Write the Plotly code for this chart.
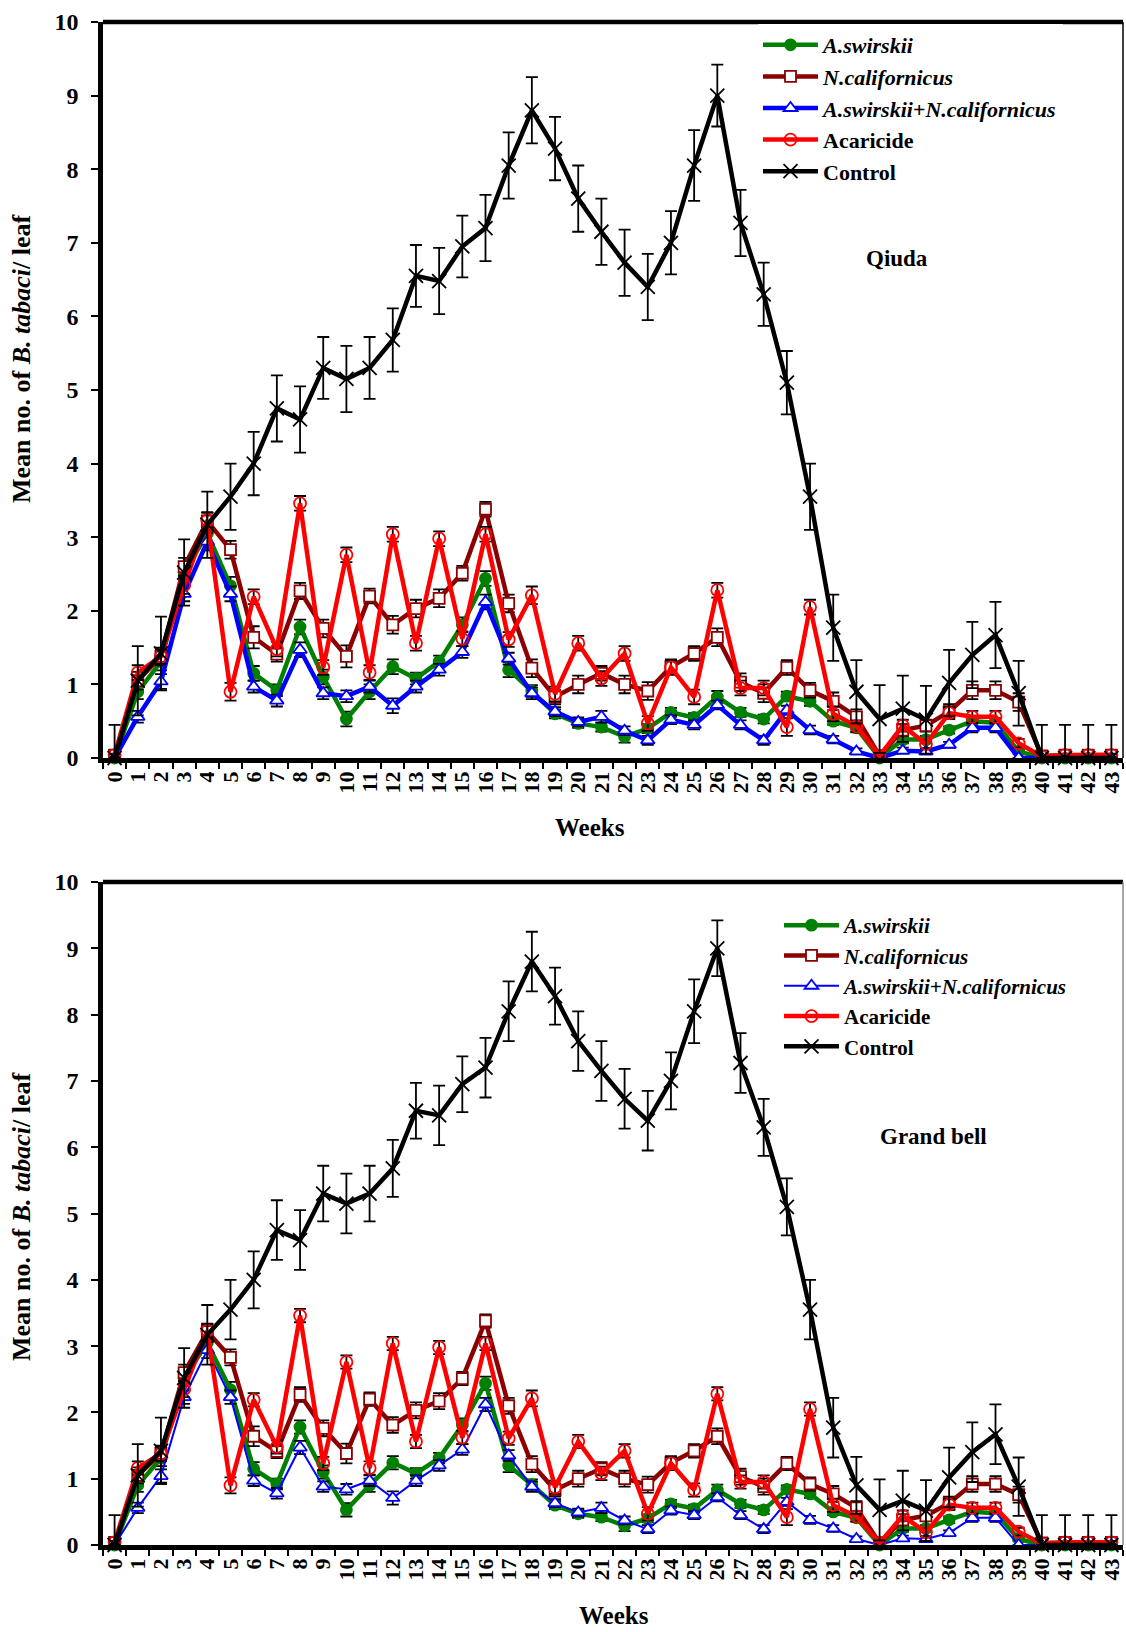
import plotly.graph_objects as go

# Weekly sampling points
weeks = [str(w) for w in range(44)]

# Mean no. of B. tabaci per leaf
a_swirskii = [0, 0.9, 1.31, 2.52, 3.05, 2.34, 1.15, 0.92, 1.78, 1.1, 0.53, 0.9, 1.24, 1.08,
              1.31, 1.81, 2.44, 1.2, 0.91, 0.6, 0.47, 0.42, 0.29, 0.4, 0.62, 0.55, 0.83, 0.62,
              0.53, 0.84, 0.77, 0.5, 0.41, 0, 0.25, 0.25, 0.38, 0.5, 0.48, 0.09, 0, 0, 0, 0]
n_californicus = [0.04, 1.05, 1.38, 2.6, 3.22, 2.83, 1.64, 1.41, 2.27, 1.76, 1.38, 2.2, 1.81, 2.03,
                  2.17, 2.51, 3.38, 2.1, 1.22, 0.83, 1.0, 1.15, 1.0, 0.91, 1.24, 1.42, 1.64, 1.03,
                  0.88, 1.23, 0.92, 0.77, 0.56, 0.03, 0.38, 0.44, 0.63, 0.92, 0.92, 0.76, 0.03,
                  0.04, 0.04, 0.04]
combined = [0, 0.56, 1.04, 2.23, 2.94, 2.23, 0.97, 0.78, 1.47, 0.88, 0.84, 0.97, 0.71, 0.97,
            1.2, 1.44, 2.12, 1.35, 0.88, 0.63, 0.49, 0.56, 0.37, 0.24, 0.52, 0.45, 0.72, 0.45,
            0.24, 0.65, 0.38, 0.25, 0.09, 0, 0.1, 0.09, 0.18, 0.41, 0.41, 0, 0, 0, 0, 0]
acaricide = [0.04, 1.16, 1.38, 2.35, 3.23, 0.9, 2.19, 1.48, 3.46, 1.23, 2.76, 1.16, 3.04, 1.56,
             2.98, 1.62, 3.04, 1.61, 2.21, 0.87, 1.56, 1.08, 1.42, 0.47, 1.23, 0.83, 2.28, 0.95,
             0.95, 0.42, 2.05, 0.6, 0.43, 0.03, 0.44, 0.19, 0.61, 0.56, 0.56, 0.2, 0.02, 0.04,
             0.04, 0.04]
control = [0, 1.05, 1.42, 2.52, 3.17, 3.55, 4.0, 4.75, 4.6, 5.3, 5.15, 5.3, 5.68, 6.55,
           6.48, 6.95, 7.2, 8.05, 8.8, 8.28, 7.6, 7.15, 6.73, 6.4, 7.0, 8.05, 9.0, 7.27,
           6.3, 5.1, 3.55, 1.77, 0.9, 0.53, 0.67, 0.52, 1.02, 1.4, 1.67, 0.88, 0, 0, 0, 0]

# Standard errors
a_swirskii_se = [0, 0.1, 0.12, 0.12, 0.12, 0.12, 0.1, 0.08, 0.1, 0.1, 0.1, 0.1, 0.1, 0.08,
                 0.08, 0.1, 0.1, 0.1, 0.08, 0.06, 0.06, 0.06, 0.08, 0.06, 0.06, 0.06, 0.08, 0.06,
                 0.06, 0.06, 0.06, 0.05, 0.05, 0, 0.05, 0.05, 0.05, 0.06, 0.06, 0.03, 0, 0, 0, 0]
n_californicus_se = [0.02, 0.12, 0.12, 0.12, 0.12, 0.12, 0.15, 0.1, 0.11, 0.12, 0.15, 0.1, 0.12, 0.12,
                     0.12, 0.1, 0.1, 0.12, 0.12, 0.1, 0.12, 0.1, 0.12, 0.12, 0.1, 0.1, 0.12, 0.12,
                     0.12, 0.1, 0.1, 0.12, 0.1, 0.02, 0.08, 0.08, 0.1, 0.12, 0.12, 0.12, 0.02,
                     0.02, 0.02, 0.02]
combined_se = [0, 0.08, 0.1, 0.1, 0.12, 0.1, 0.08, 0.08, 0.1, 0.08, 0.08, 0.08, 0.1, 0.08,
               0.08, 0.08, 0.1, 0.08, 0.08, 0.06, 0.06, 0.08, 0.06, 0.06, 0.06, 0.06, 0.06, 0.06,
               0.06, 0.06, 0.06, 0.05, 0.04, 0, 0.04, 0.04, 0.04, 0.06, 0.06, 0, 0, 0, 0, 0]
acaricide_se = [0.02, 0.1, 0.1, 0.12, 0.1, 0.12, 0.1, 0.1, 0.1, 0.1, 0.1, 0.1, 0.1, 0.1,
                0.1, 0.1, 0.1, 0.1, 0.12, 0.1, 0.1, 0.1, 0.1, 0.1, 0.1, 0.1, 0.1, 0.1,
                0.1, 0.12, 0.1, 0.1, 0.08, 0.02, 0.08, 0.06, 0.08, 0.08, 0.08, 0.06, 0.02,
                0.02, 0.02, 0.02]
control_se = [0.45, 0.47, 0.5, 0.45, 0.45, 0.45, 0.43, 0.45, 0.45, 0.42, 0.45, 0.42, 0.43, 0.42,
              0.45, 0.42, 0.45, 0.45, 0.45, 0.43, 0.45, 0.45, 0.45, 0.45, 0.43, 0.48, 0.42, 0.45,
              0.43, 0.43, 0.45, 0.45, 0.43, 0.46, 0.45, 0.46, 0.45, 0.45, 0.45, 0.44, 0.45,
              0.45, 0.45, 0.45]

series_names = ["<i>A.swirskii</i>", "<i>N.californicus</i>", "<i>A.swirskii+N.californicus</i>",
                "Acaricide", "Control"]
series_values = [a_swirskii, n_californicus, combined, acaricide, control]
series_se = [a_swirskii_se, n_californicus_se, combined_se, acaricide_se, control_se]

# Panel titles
panel_labels = ["Qiuda", "Grand bell"]

FONT = "Liberation Serif"
styles = [
    dict(color="#008000", symbol="circle", size=11, fill="#008000"),
    dict(color="#8B0000", symbol="square", size=11, fill="white"),
    dict(color="#0000FF", symbol="triangle-up", size=12, fill="white"),
    dict(color="#FF0000", symbol="circle-open", size=12, fill="#FF0000"),
    dict(color="#000000", symbol="x-thin", size=14, fill="#000000"),
]

W, H = 1126, 1632
left_px, right_px = 103, 1123
panels = [
    dict(top=22, bottom=758, xa="x", ya="y", legend="legend", blue_w=4.5),
    dict(top=882, bottom=1545, xa="x2", ya="y2", legend="legend2", blue_w=2),
]

fig = go.Figure()

for p in panels:
    for name, vals, se, st in zip(series_names, series_values, series_se, styles):
        lw = 4.5
        if st["color"] == "#0000FF":
            lw = p["blue_w"]
        minus = [min(e, v) for e, v in zip(se, vals)]
        fig.add_trace(go.Scatter(
            x=weeks, y=vals, name=name, mode="lines+markers",
            xaxis=p["xa"], yaxis=p["ya"], legend=p["legend"],
            line=dict(color=st["color"], width=lw),
            marker=dict(symbol=st["symbol"], size=st["size"], color=st["fill"],
                        line=dict(color=st["color"], width=1.8)),
            error_y=dict(type="data", array=se, arrayminus=minus, visible=True,
                         color="black", thickness=1.8, width=6),
            cliponaxis=False,
        ))

layout = dict(
    width=W, height=H,
    margin=dict(l=0, r=0, t=0, b=0, autoexpand=False),
    paper_bgcolor="white", plot_bgcolor="white",
    showlegend=True,
    font=dict(family=FONT, color="black"),
)

x_dom = [left_px / W, right_px / W]
annotations = []
shapes = []
for i, p in enumerate(panels):
    suffix = "" if i == 0 else "2"
    y_dom = [1 - p["bottom"] / H, 1 - p["top"] / H]
    layout["xaxis" + suffix] = dict(
        domain=x_dom, anchor="y" + suffix, type="category", automargin=False,
        range=[-0.5, 43.5], tickson="boundaries",
        tickmode="array", tickvals=weeks, ticktext=weeks,
        ticks="outside", ticklen=6, tickwidth=1.5, tickcolor="black",
        showline=True, linewidth=4.5, linecolor="black",
        showgrid=False, zeroline=False, tickangle=-90,
        tickfont=dict(family=FONT, size=22, color="black", weight="bold"),
    )
    layout["yaxis" + suffix] = dict(
        domain=y_dom, anchor="x" + suffix, range=[0, 10], automargin=False,
        tickvals=list(range(11)), ticks="outside", ticklen=7, tickwidth=1.5,
        tickcolor="black", ticklabelstandoff=8,
        showline=True, linewidth=4.5, linecolor="black",
        showgrid=False, zeroline=False,
        tickfont=dict(family=FONT, size=24, color="black", weight="bold"),
    )
    xd = "x" + suffix + " domain"
    yd = "y" + suffix + " domain"
    shapes.append(dict(type="line", xref=xd, yref=yd, x0=0, x1=1, y0=1, y1=1,
                       line=dict(color="black", width=4.5)))
    shapes.append(dict(type="line", xref=xd, yref=yd, x0=1, x1=1, y0=0, y1=1,
                       line=dict(color="black" if i == 0 else "#888888", width=1.5)))

# Legends
layout["legend"] = dict(
    x=758 / W, y=1 - 24 / H, xanchor="left", yanchor="top",
    bgcolor="white", borderwidth=0, itemwidth=55,
    font=dict(family=FONT, size=22, color="black", weight="bold"), tracegroupgap=0,
)
layout["legend2"] = dict(
    x=779 / W, y=1 - 905 / H, xanchor="left", yanchor="top",
    bgcolor="white", borderwidth=0, itemwidth=55,
    font=dict(family=FONT, size=21, color="black", weight="bold"), tracegroupgap=0,
)

# Text labels: panel names, axis titles
label_pos = [(897, 258), (933, 1136)]
weeks_pos = [(590, 827), (614, 1615)]
ytitle_pos = [(21, 359), (21, 1217)]
for lab, (lx, ly), (wx, wy), (tx, ty) in zip(panel_labels, label_pos, weeks_pos, ytitle_pos):
    common = dict(xref="paper", yref="paper", showarrow=False,
                  xanchor="center", yanchor="middle")
    annotations.append(dict(text="<b>" + lab + "</b>", x=lx / W, y=1 - ly / H,
                            font=dict(family=FONT, size=23, color="black"), **common))
    annotations.append(dict(text="<b>Weeks</b>", x=wx / W, y=1 - wy / H,
                            font=dict(family=FONT, size=25, color="black"), **common))
    annotations.append(dict(text="<b>Mean no. of <i>B. tabaci</i>/ leaf</b>",
                            x=tx / W, y=1 - ty / H, textangle=-90,
                            font=dict(family=FONT, size=26, color="black"), **common))

layout["annotations"] = annotations
layout["shapes"] = shapes
fig.update_layout(**layout)

fig.write_html("out.html")
